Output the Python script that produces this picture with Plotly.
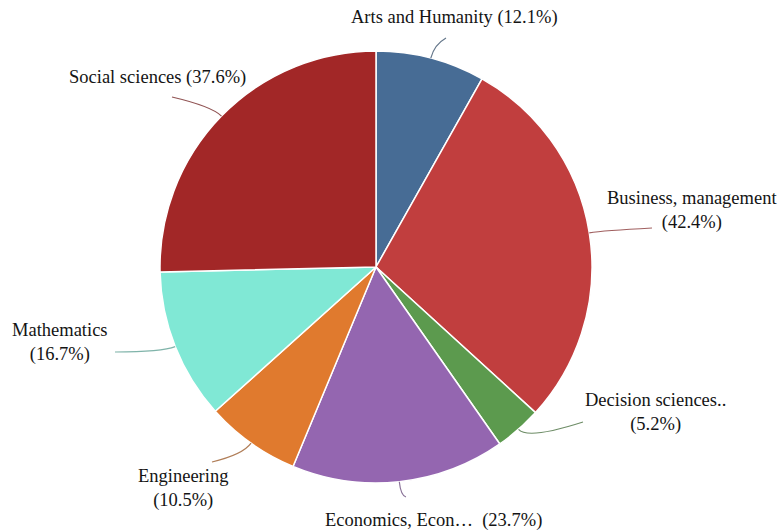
import math
import plotly.graph_objects as go

# Share of publications per subject area (multi-labelled, so shares exceed 100% in total)
categories = ["Arts and Humanity", "Business, management", "Decision sciences..",
              "Economics, Econ…", "Engineering", "Mathematics", "Social sciences"]
values = [12.1, 42.4, 5.2, 23.7, 10.5, 16.7, 37.6]
colors = ["#476c95", "#c13e3e", "#5c9a4e", "#9466b0", "#e07a2e", "#80e8d5", "#a22727"]

W, H = 778, 531
CX, CY, R = 376, 267, 216          # pie centre / radius in pixels

# label layout: text centre (px), line-break style, leader-line end (px)
label_pos = [(454, 17), (692, 211), (655, 412), (434, 520), (183, 488), (60, 342), (157, 78)]
label_two_lines = [False, True, True, False, True, True, False]
leader_end = [(446, 38), (652, 228), (583, 422), (406, 497), (212, 462), (115, 352), (172, 97)]

SERIF = "Liberation Serif"


def px(x, y):
    return x / W, 1 - y / H


def blend(hex_col, other=(128, 128, 128), t=0.5):
    h = hex_col.lstrip("#")
    r, g, b = (int(h[i:i + 2], 16) for i in (0, 2, 4))
    return "rgb(%d,%d,%d)" % tuple(round(c * (1 - t) + o * t) for c, o in zip((r, g, b), other))


fig = go.Figure(go.Pie(
    labels=categories,
    values=values,
    sort=False,
    direction="clockwise",
    rotation=0,
    textinfo="none",
    hoverinfo="label+value",
    marker=dict(colors=colors, line=dict(color="white", width=1.5)),
    domain=dict(x=[(CX - R) / W, (CX + R) / W], y=[(H - CY - R) / H, (H - CY + R) / H]),
    showlegend=False,
))

total = sum(values)
cum = 0.0
shapes, annotations = [], []
for i, (cat, v) in enumerate(zip(categories, values)):
    mid = math.radians((cum + v / 2) / total * 360)
    cum += v
    sx, sy = CX + R * math.sin(mid), CY - R * math.cos(mid)
    kx, ky = CX + (R + 14) * math.sin(mid), CY - (R + 14) * math.cos(mid)
    ex, ey = leader_end[i]
    p0, pk, pe = px(sx, sy), px(kx, ky), px(ex, ey)
    shapes.append(dict(
        type="path", xref="paper", yref="paper",
        path=f"M {p0[0]},{p0[1]} Q {pk[0]},{pk[1]} {pe[0]},{pe[1]}",
        line=dict(color=blend(colors[i]), width=1.2),
    ))
    sep = "<br>" if label_two_lines[i] else ("  " if cat.endswith("…") else " ")
    tx, ty = px(*label_pos[i])
    annotations.append(dict(
        x=tx, y=ty, xref="paper", yref="paper", showarrow=False,
        text=f"{cat}{sep}({v}%)", xanchor="center", yanchor="middle", align="center",
        font=dict(family=SERIF, size=18.5, color="#141414"),
    ))

fig.update_layout(
    width=W, height=H,
    margin=dict(l=0, r=0, t=0, b=0),
    paper_bgcolor="white", plot_bgcolor="white",
    font=dict(family=SERIF),
    shapes=shapes, annotations=annotations,
)

fig.write_html("out.html")
